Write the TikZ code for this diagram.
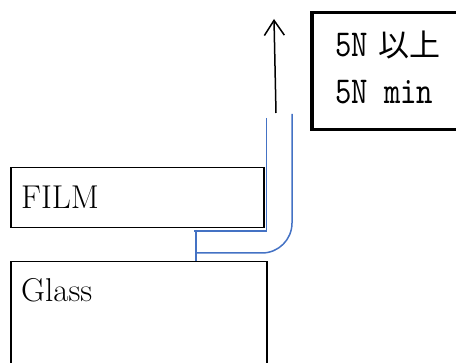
\documentclass[tikz,border=0pt]{standalone}
\usepackage{fontspec}
\usetikzlibrary{arrows.meta}
\newfontfamily\cjkfont{Noto Sans CJK JP}
\newfontfamily\monofont[FakeStretch=0.82]{lmmono10-regular.otf}
\definecolor{peelblue}{RGB}{68,114,196}
\tikzset{
  plainbox/.style={draw=black, line width=1.5pt, inner sep=0pt, anchor=north west},
  notebox/.style={draw=black, line width=3.5pt, inner sep=0pt, anchor=north west},
  peel/.style={draw=peelblue, line width=1.5pt},
  lbl/.style={inner sep=0pt, anchor=base west, font=\fontsize{33}{36}\selectfont},
  notetext/.style={inner sep=0pt, anchor=base west},
  pull/.style={draw=black, line width=1.5pt, -{Straight Barb[length=15pt,width=20pt,line width=1.5pt]}}
}
\begin{document}
\begin{tikzpicture}[x=1pt,y=-1pt]
\useasboundingbox (0,0) rectangle (456,363);
\begin{scope}
\clip (0,0) rectangle (456,363);
% boxes
\node[plainbox, minimum width=253pt, minimum height=60pt] (film) at (10,167) {};
\node[plainbox, minimum width=256pt, minimum height=106pt] (glass) at (10,261) {};
\node[notebox, minimum width=160pt, minimum height=117pt] (note) at (310,11) {};
\end{scope}
% texts
\node[lbl] (filmtxt) at (21,209) {FILM};
\node[lbl] (glasstxt) at (21,302) {Glass};
\node[notetext] (l1) at (335,57) {\monofont\fontsize{38}{40}\selectfont 5N\hspace{11pt}\cjkfont\fontsize{31}{34}\selectfont 以上};
\node[notetext] (l2) at (335,104) {\monofont\fontsize{38}{40}\selectfont 5N min};
% peeled film
\draw[peel] (266.5,118) -- (266.5,231) -- (194,231);
\draw[peel] (196,230) -- (196,261);
\draw[peel] (292,114) -- (292,223) arc[start angle=0, end angle=90, radius=30] -- (196,253);
% pull arrow
\coordinate (pullstart) at (276,113);
\coordinate (pullend) at (274,19);
\draw[pull] (pullstart) -- (pullend);
\end{tikzpicture}
\end{document}
